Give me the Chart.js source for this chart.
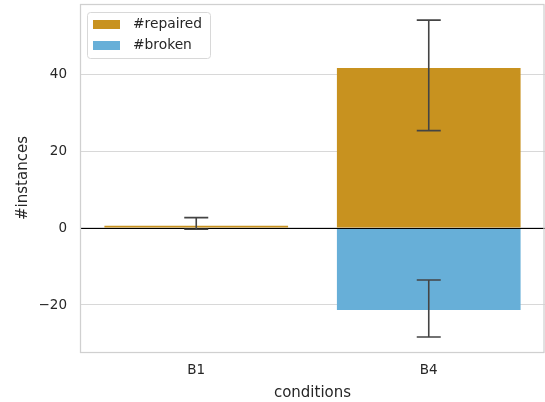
<!DOCTYPE html>
<html>
<head>
<meta charset="utf-8">
<script src="https://cdn.jsdelivr.net/npm/chart.js@4.4.1/dist/chart.umd.min.js"></script>
<style>
  html, body { margin: 0; padding: 0; background: #fff; }
  #wrap { width: 545px; height: 402px; }
</style>
</head>
<body>
<div id="wrap"><canvas id="barChart" width="545" height="402"></canvas></div>
<script>
// data
var categorias = ["B1", "B4"];
var reparados = [0.6, 41.6];
var reparadosLow = [-0.3, 25.3];
var reparadosHigh = [2.7, 54.0];
var rotos = [0, -21.3];
var rotosLow = [0, -28.3];
var rotosHigh = [0, -13.5];
var yTicks = [-20, 0, 20, 40];

var colorRep = "#c8921f";
var colorRot = "#67afd8";
var textColor = "#262626";

// draws the error bars, the zero line, the frame and the legend box
var extras = {
    id: 'extras',
    afterDatasetsDraw: function (chart) {
        var ctx = chart.ctx;
        var y = chart.scales.y;
        var area = chart.chartArea;

        // zero line
        ctx.save();
        ctx.strokeStyle = "#000";
        ctx.lineWidth = 1;
        ctx.beginPath();
        var y0 = Math.round(y.getPixelForValue(0)) + 0.5;
        ctx.moveTo(area.left, y0);
        ctx.lineTo(area.right, y0);
        ctx.stroke();

        // error bars
        chart.data.datasets.forEach(function (ds, i) {
            var meta = chart.getDatasetMeta(i);
            meta.data.forEach(function (bar, j) {
                var lo = ds.errLow[j], hi = ds.errHigh[j];
                if (lo === hi) return;
                var x = bar.x;
                var pLo = y.getPixelForValue(lo);
                var pHi = y.getPixelForValue(hi);
                ctx.strokeStyle = "#444";
                ctx.lineWidth = 1.6;
                ctx.beginPath();
                ctx.moveTo(x, pLo); ctx.lineTo(x, pHi);
                ctx.moveTo(x - 12, pLo); ctx.lineTo(x + 12, pLo);
                ctx.moveTo(x - 12, pHi); ctx.lineTo(x + 12, pHi);
                ctx.stroke();
            });
        });

        // frame
        ctx.strokeStyle = "#d0d0d0";
        ctx.lineWidth = 1.25;
        ctx.strokeRect(area.left + 0.5, area.top + 0.5, area.right - area.left - 1.5, area.bottom - area.top);

        // legend
        var lx = area.left + 7, ly = area.top + 8;
        ctx.fillStyle = "rgba(255,255,255,0.85)";
        ctx.strokeStyle = "#d8d8d8";
        ctx.lineWidth = 1;
        ctx.beginPath();
        ctx.roundRect(lx + 0.5, ly + 0.5, 123, 46, 3);
        ctx.fill();
        ctx.stroke();
        ctx.font = "13.8px 'DejaVu Sans'";
        ctx.textBaseline = "middle";
        chart.data.datasets.forEach(function (ds, i) {
            var cy = ly + 12 + i * 21;
            ctx.fillStyle = ds.backgroundColor;
            ctx.fillRect(lx + 6, cy - 4, 27, 9);
            ctx.fillStyle = textColor;
            ctx.fillText(ds.label, lx + 46, cy);
        });
        ctx.restore();
    }
};

function Barra(cv_barra) {
    if (cv_barra) {
        new Chart(cv_barra, {
            type: 'bar',
            data: {
                labels: categorias,
                datasets: [
                    {
                        label: "#repaired",
                        backgroundColor: colorRep,
                        data: reparados,
                        errLow: reparadosLow,
                        errHigh: reparadosHigh
                    },
                    {
                        label: "#broken",
                        backgroundColor: colorRot,
                        data: rotos,
                        errLow: rotosLow,
                        errHigh: rotosHigh
                    }
                ]
            },
            options: {
                responsive: false,
                animation: false,
                barPercentage: 0.79,
                categoryPercentage: 1,
                layout: { padding: { left: 14, right: 0, top: 4, bottom: 0 } },
                plugins: {
                    legend: { display: false },
                    tooltip: { enabled: false }
                },
                scales: {
                    x: {
                        stacked: true,
                        grid: { display: false },
                        border: { display: false },
                        ticks: {
                            color: textColor,
                            font: { family: "DejaVu Sans", size: 13.5 },
                            padding: 2
                        },
                        title: {
                            display: true,
                            text: "conditions",
                            color: textColor,
                            font: { family: "DejaVu Sans", size: 15 },
                            padding: { top: 8, bottom: 0 }
                        },
                        afterFit: function (s) {
                            s.height = 50;
                            s.paddingLeft = 0;
                            s.paddingRight = 0;
                        }
                    },
                    y: {
                        stacked: true,
                        min: -32.2,
                        max: 58.2,
                        afterBuildTicks: function (s) {
                            s.ticks = yTicks.map(function (v) { return { value: v }; });
                        },
                        grid: { color: "#d8d8d8", lineWidth: 1.1, drawTicks: false },
                        border: { display: false },
                        ticks: {
                            color: textColor,
                            font: { family: "DejaVu Sans", size: 13.5 },
                            padding: 13,
                            callback: function (v) { return String(v).replace('-', '\u2212'); }
                        },
                        title: {
                            display: true,
                            text: "#instances",
                            color: textColor,
                            font: { family: "DejaVu Sans", size: 15 },
                            padding: { top: 0, bottom: 4 }
                        },
                        afterFit: function (s) {
                            s.width = 66;
                            s.paddingTop = 0;
                            s.paddingBottom = 0;
                        }
                    }
                }
            },
            plugins: [extras]
        });
    }
}

var cvS_barra = document.getElementById("barChart");

Barra(cvS_barra);
</script>
</body>
</html>
